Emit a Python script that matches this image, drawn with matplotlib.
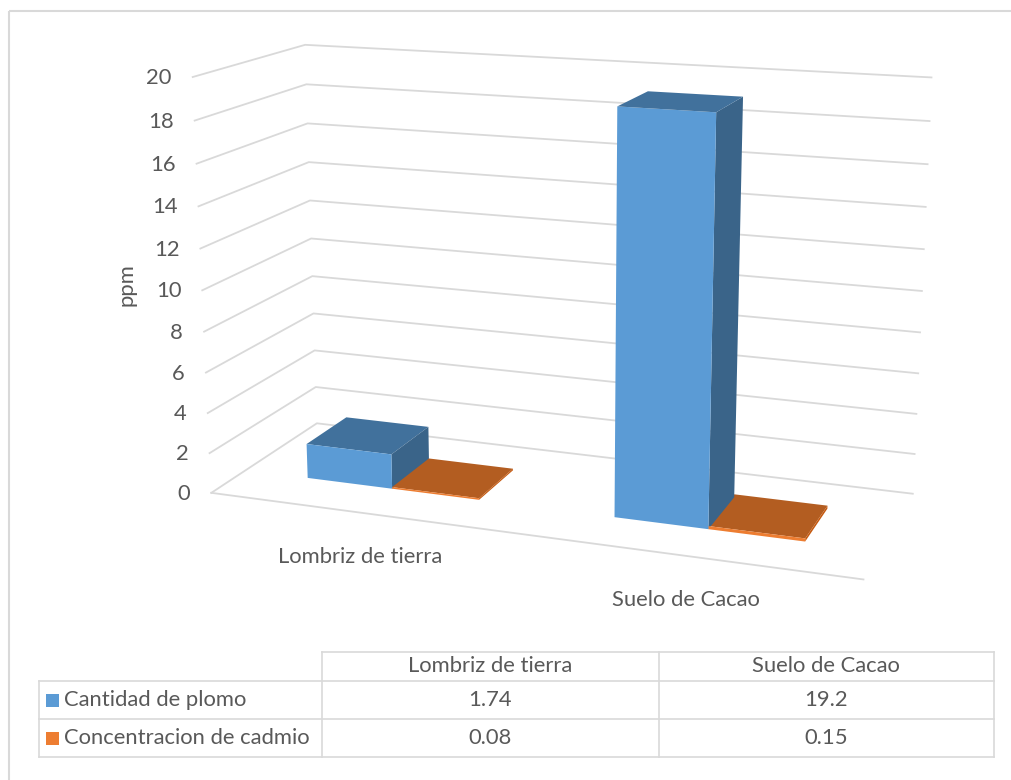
import numpy as np
import matplotlib
matplotlib.use('Agg')
import matplotlib.pyplot as plt
from matplotlib.patches import Rectangle

# Datos
categorias = ['Lombriz de tierra', 'Suelo de Cacao']
series = ['Cantidad de plomo', 'Concentracion de cadmio']
plomo = [1.74, 19.2]
cadmio = [0.08, 0.15]
valores_tabla = [['1.74', '19.2'], ['0.08', '0.15']]
ticks_y = list(range(0, 21, 2))

W, H = 1011, 780
GRIS = '#D9D9D9'
TEXTO = '#595959'
plt.rcParams['font.family'] = ['Lato', 'DejaVu Sans']
FS = 15.8

# caras de cada barra: abajo, arriba, frente, atras, izquierda, derecha
caras_azul = ['none', '#41719C', '#5B9BD5', 'none', 'none', '#3A6489']
caras_naranja = ['none', '#B35D21', '#ED7D31', 'none', 'none', '#C55A11']
colores_leyenda = ['#5B9BD5', '#ED7D31']

fig = plt.figure(figsize=(W / 100, H / 100), dpi=100)
fig.patch.set_facecolor('white')

# grafico 3D con perspectiva (camara tipo Excel)
ax = fig.add_axes([144.04 / W, 71.54 / H, 813.64 / W, 813.64 / H], projection='3d')
ax.set_xlim(0, 2)
ax.set_ylim(0, 1)
ax.set_zlim(0, 20)
ax.set_axis_off()
ax.view_init(elev=14.577, azim=-70.111, roll=0)
ax.set_proj_type('persp', focal_length=0.4745)
ax.set_box_aspect((1, 0.3577, 0.6340))
ax.computed_zorder = False


def punto(x, y, z):
    M = ax.get_proj()
    v = M @ np.array([x, y, z, 1.0])
    return v[0] / v[3], v[1] / v[3]


# lineas de division en pared izquierda y fondo
for z in ticks_y:
    ax.plot([0, 0, 2], [0, 1, 1], [z, z, z], color=GRIS, lw=1.3, zorder=1)
ax.plot([0, 2], [0, 0], [0, 0], color=GRIS, lw=1.3, zorder=1)

# columnas agrupadas
ancho = 1 / 3.5
y0, y1 = 0.307, 0.701
xs, alturas, colores = [], [], []
for i in range(len(categorias)):
    for j, (vals, caras) in enumerate([(plomo, caras_azul), (cadmio, caras_naranja)]):
        xs.append(i + (0.75 + j) * ancho)
        alturas.append(vals[i])
        colores += caras
n = len(xs)
ax.bar3d(xs, [y0] * n, [0] * n, ancho, y1 - y0, alturas, color=colores,
         shade=False, linewidth=0, zorder=2)

# etiquetas del eje vertical
for z in ticks_y:
    ax.annotate(str(z), xy=punto(0, 0, z), xycoords='data', xytext=(-21, -1),
                textcoords='offset pixels', ha='right', va='center',
                fontsize=FS, color=TEXTO, annotation_clip=False)

# etiquetas de categorias
for i, cat in enumerate(categorias):
    ax.annotate(cat, xy=punto(i + 0.5, 0, 0), xycoords='data', xytext=(-1, -44),
                textcoords='offset pixels', ha='center', va='center',
                fontsize=FS, color=TEXTO, annotation_clip=False)

fig.text(127 / W, 1 - 285 / H, 'ppm', rotation=90, ha='center', va='center',
         fontsize=FS, color=TEXTO)

# tabla de datos y marco
tab = fig.add_axes([0, 0, 1, 1], facecolor='none')
tab.set_xlim(0, W)
tab.set_ylim(H, 0)
tab.axis('off')

cols = [39, 321.5, 658.5, 994]
filas = [652, 681, 719, 757]
lw = 1.2
tab.plot([cols[1], cols[3]], [filas[0], filas[0]], color=GRIS, lw=lw)
for yy in filas[1:]:
    tab.plot([cols[0], cols[3]], [yy, yy], color=GRIS, lw=lw)
tab.plot([cols[0], cols[0]], [filas[1], filas[3]], color=GRIS, lw=lw)
for xx in cols[1:]:
    tab.plot([xx, xx], [filas[0], filas[3]], color=GRIS, lw=lw)

centros = [(cols[1] + cols[2]) / 2, (cols[2] + cols[3]) / 2]
for k, cat in enumerate(categorias):
    tab.text(centros[k], (filas[0] + filas[1]) / 2, cat, ha='center', va='center',
             fontsize=FS, color=TEXTO)
for r, nombre in enumerate(series):
    yc = (filas[r + 1] + filas[r + 2]) / 2
    tab.add_patch(Rectangle((46, yc - 6.5), 13, 13, facecolor=colores_leyenda[r], edgecolor='none'))
    tab.text(64, yc, nombre, ha='left', va='center', fontsize=FS, color=TEXTO)
    for k in range(len(categorias)):
        tab.text(centros[k], yc, valores_tabla[r][k], ha='center', va='center',
                 fontsize=FS, color=TEXTO)

tab.add_patch(Rectangle((9, 10.5), 1100, 900, facecolor='none', edgecolor=GRIS, lw=1.5))

fig.savefig('out.png', dpi=100)
